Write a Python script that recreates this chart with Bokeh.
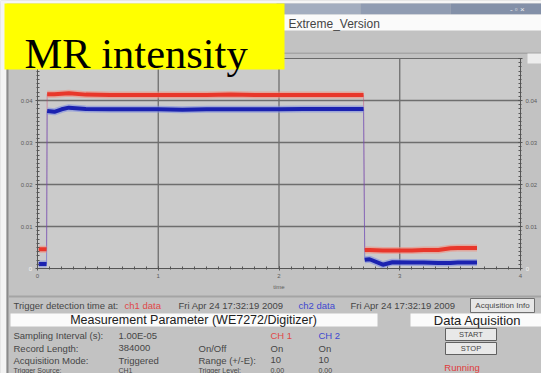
import numpy as np
from bokeh.plotting import figure
from bokeh.models import Range1d, LinearAxis, FixedTicker
from bokeh.core.properties import value
from bokeh.embed import file_html
from bokeh.resources import INLINE

# Time (s) and MR signal of both digitizer channels, in three segments:
# before the field is switched on, while it is on, and after it is off.
t_pre = [0.01, 0.075]
ch1_pre = [0.0046, 0.0046]
ch2_pre = [0.0011, 0.0011]

t_on = [0.08, 0.14, 0.20, 0.26, 0.40, 0.60, 0.80, 1.00, 1.20, 1.40,
        1.60, 1.80, 2.00, 2.20, 2.40, 2.60, 2.70]
ch1_on = [0.0415, 0.0415, 0.0416, 0.0417, 0.0414, 0.0413, 0.0413, 0.0413, 0.0413, 0.0413,
          0.0414, 0.0413, 0.0413, 0.0413, 0.0413, 0.0413, 0.0413]
ch2_on = [0.0375, 0.0373, 0.0379, 0.0383, 0.0380, 0.0379, 0.0379, 0.0379, 0.0378, 0.0379,
          0.0379, 0.0379, 0.0379, 0.0380, 0.0380, 0.0380, 0.0380]

t_off = [2.71, 2.75, 2.86, 2.94, 3.10, 3.20, 3.32, 3.42, 3.48, 3.55, 3.64]
ch1_off = [0.0044, 0.0044, 0.0043, 0.0043, 0.0043, 0.0044, 0.0044, 0.0048, 0.0049, 0.0049, 0.0049]
ch2_off = [0.0021, 0.0022, 0.0009, 0.0015, 0.0014, 0.0014, 0.0013, 0.0013, 0.0014, 0.0014, 0.0014]

x_ticks = [0, 1, 2, 3, 4]
y_ticks = [0, 0.01, 0.02, 0.03, 0.04, 0.05]

W, H = 541, 373
FL, FR, FT, FB = 37, 520, 58, 268   # graph area edges in page pixels

# data ranges padded so that the graph area sits inside the instrument panel
kx = (FR - FL) / (x_ticks[-1] - x_ticks[0])
ky = (FB - FT) / (y_ticks[-1] - y_ticks[0])
x_range = Range1d(x_ticks[0] - FL / kx, x_ticks[-1] + (W - FR) / kx)
y_range = Range1d(y_ticks[0] - (H - FB) / ky, y_ticks[-1] + FT / ky)

p = figure(width=W, height=H, output_backend="svg", toolbar_location=None,
           x_range=x_range, y_range=y_range,
           x_axis_location=None, y_axis_location=None, min_border=0,
           background_fill_color="#c2c2c2", border_fill_color="#c2c2c2",
           outline_line_color=None)
p.grid.visible = False
p.extra_x_ranges = {"px": Range1d(0, W)}
p.extra_y_ranges = {"px": Range1d(H, 0)}

FONT = value("Liberation Sans")
INK = "#464646"


def box(l, t, r, b, fill, line=None, lw=1, level="glyph"):
    p.quad(left=[l], right=[r], top=[t], bottom=[b], fill_color=fill,
           line_color=line if line else None, line_width=lw,
           x_range_name="px", y_range_name="px", level=level)


def text(x, y, s, size=9.5, color=INK, align="left", font=FONT,
         baseline="middle", level="glyph"):
    p.text(x=[x], y=[y], text=[s], text_font=font, text_font_size=value(f"{size}px"),
           text_color=color, text_align=align, text_baseline=baseline,
           x_range_name="px", y_range_name="px", level=level)


# graph area background and grid
p.quad(left=[x_ticks[0]], right=[x_ticks[-1]], bottom=[y_ticks[0]], top=[y_ticks[-1]],
       fill_color="#cbcbcb", line_color="#6a6a6a", line_width=1)
p.segment(x0=x_ticks[1:-1], x1=x_ticks[1:-1], y0=[y_ticks[0]] * 3, y1=[y_ticks[-1]] * 3,
          line_color="#6e6e6e", line_width=1.3)
p.segment(x0=[x_ticks[0]] * 4, x1=[x_ticks[-1]] * 4, y0=y_ticks[1:-1], y1=y_ticks[1:-1],
          line_color="#6e6e6e", line_width=1.3)

# thin trace through the switching edges
t_all = t_pre + t_on + t_off
p.line(t_all, ch1_pre + ch1_on + ch1_off, color="#c04070", line_width=1, alpha=0.45)
p.line(t_all, ch2_pre + ch2_on + ch2_off, color="#5050d0", line_width=1, alpha=0.55)

# thick plateaus of each channel
for tt, v1, v2 in ((t_pre, ch1_pre, ch2_pre), (t_on, ch1_on, ch2_on), (t_off, ch1_off, ch2_off)):
    p.line(tt, v1, color="#f09080", line_width=7, alpha=0.6)
    p.line(tt, v1, color="#e8372b", line_width=4)
    p.line(tt, v2, color="#8090e0", line_width=7, alpha=0.6)
    p.line(tt, v2, color="#1b22b0", line_width=4)

# axes
xt = FixedTicker(ticks=x_ticks, minor_ticks=list(np.round(np.arange(0, 4.001, 0.1), 3)))
yt = FixedTicker(ticks=y_ticks, minor_ticks=list(np.round(np.arange(0, 0.05001, 0.001), 4)))


def style_axis(ax):
    ax.axis_line_color = "#555555"
    ax.major_tick_line_color = "#555555"
    ax.minor_tick_line_color = "#555555"
    ax.major_tick_in, ax.major_tick_out = 2, 2
    ax.minor_tick_in, ax.minor_tick_out = 2, 1
    ax.major_label_text_font = "Liberation Sans"
    ax.major_label_text_font_size = "6px"
    ax.major_label_text_color = "#5c5c5c"
    ax.major_label_standoff = 3


x_axis = LinearAxis(ticker=xt, fixed_location=y_ticks[0], bounds=(x_ticks[0], x_ticks[-1]),
                    axis_label="time", axis_label_text_font="Liberation Sans",
                    axis_label_text_font_size="6px", axis_label_text_font_style="normal",
                    axis_label_text_color="#5c5c5c", axis_label_standoff=3)
style_axis(x_axis)
p.add_layout(x_axis, "below")

hidden = {y_ticks[0]: " ", y_ticks[-1]: " "}
left_axis = LinearAxis(ticker=yt, fixed_location=x_ticks[0], bounds=(y_ticks[0], y_ticks[-1]),
                       major_label_overrides=hidden)
style_axis(left_axis)
p.add_layout(left_axis, "left")
right_axis = LinearAxis(ticker=yt, fixed_location=x_ticks[-1], bounds=(y_ticks[0], y_ticks[-1]),
                        major_label_overrides=hidden)
style_axis(right_axis)
p.add_layout(right_axis, "right")

# panel frame
box(0, 0, W, 3, "#f6f6f6")
box(0, 0, 6, H, "#f3f3f3")
box(6, 50, 8, H, "#8a8a8a")

# window title bar
box(276, 3, 360, 14, "#a3adbf")
box(360, 3, 450, 14, "#909cb2")
box(450, 3, W, 14, "#8390a8")
text(519, 8.5, "-  ▫  ×", size=8, color="#eeeeee", align="center")
box(276, 14, W, 30, "#fafafa")
text(288, 23, "Extreme_Version", size=12, color="#444444")
box(8, 52, W, 53.5, "#a6a6a6")
box(527, 53, W, 63, "#ededed", level="overlay")

# white zero markers on both axes
text(30, 268, "0", size=6, color="#f4f4f4", align="center")
text(527, 268, "0", size=6, color="#f4f4f4", align="center")

# caption
box(4, 3, 284, 69, "#ffff00", level="overlay")
text(24, 53, "MR intensity", size=42.5, color="#000000", font=value("Liberation Serif"),
     baseline="alphabetic", level="overlay")

# trigger row
box(8, 295, W, 297, "#a4a4a4")
text(13, 305, "Trigger detection time at:", size=9.5)
text(124, 305, "ch1 data", size=9.5, color="#e04848")
text(178, 305, "Fri Apr 24 17:32:19 2009", size=9.5)
text(298, 305, "ch2 data", size=9.5, color="#4048d0")
text(350, 305, "Fri Apr 24 17:32:19 2009", size=9.5)
box(470, 298, 534, 312, "#e6e6e6", line="#707070")
text(502, 305, "Acquisition Info", size=8, align="center")

# section headers
box(10, 313, 377, 326, "#fbfbfb")
text(193, 319.5, "Measurement Parameter (WE7272/Digitizer)", size=12.5, color="#202020",
     align="center")
box(410, 313, W, 326, "#fbfbfb")
text(477, 319.5, "Data Aquisition", size=13, color="#202020", align="center")

# parameter table
rows_y = [335, 347.5, 359.5, 369.5]
col_a = ["Sampling Interval (s):", "Record Length:", "Acquisition Mode:", "Trigger Source:"]
col_b = ["1.00E-05", "384000", "Triggered", "CH1"]
col_c = ["", "On/Off", "Range (+/-E):", "Trigger Level:"]
col_d = ["CH 1", "On", "10", "0.00"]
col_e = ["CH 2", "On", "10", "0.00"]
for i, y in enumerate(rows_y):
    sz = 9.5 if i < 3 else 7
    text(13, y, col_a[i], size=sz)
    text(118, y, col_b[i], size=sz)
    if col_c[i]:
        text(198, y, col_c[i], size=sz)
    text(270, y, col_d[i], size=sz, color="#e04848" if i == 0 else INK)
    text(318, y, col_e[i], size=sz, color="#4048d0" if i == 0 else INK)

# acquisition controls
box(445, 328, 496, 340, "#e8e8e8", line="#606060")
text(470.5, 334, "START", size=7.5, align="center")
box(445, 342, 496, 354, "#e8e8e8", line="#606060")
text(470.5, 348, "STOP", size=7.5, align="center")
text(461.5, 366.5, "Running", size=9.5, color="#e03a3a", align="center")

open("out.html", "w").write(file_html(p, INLINE))
